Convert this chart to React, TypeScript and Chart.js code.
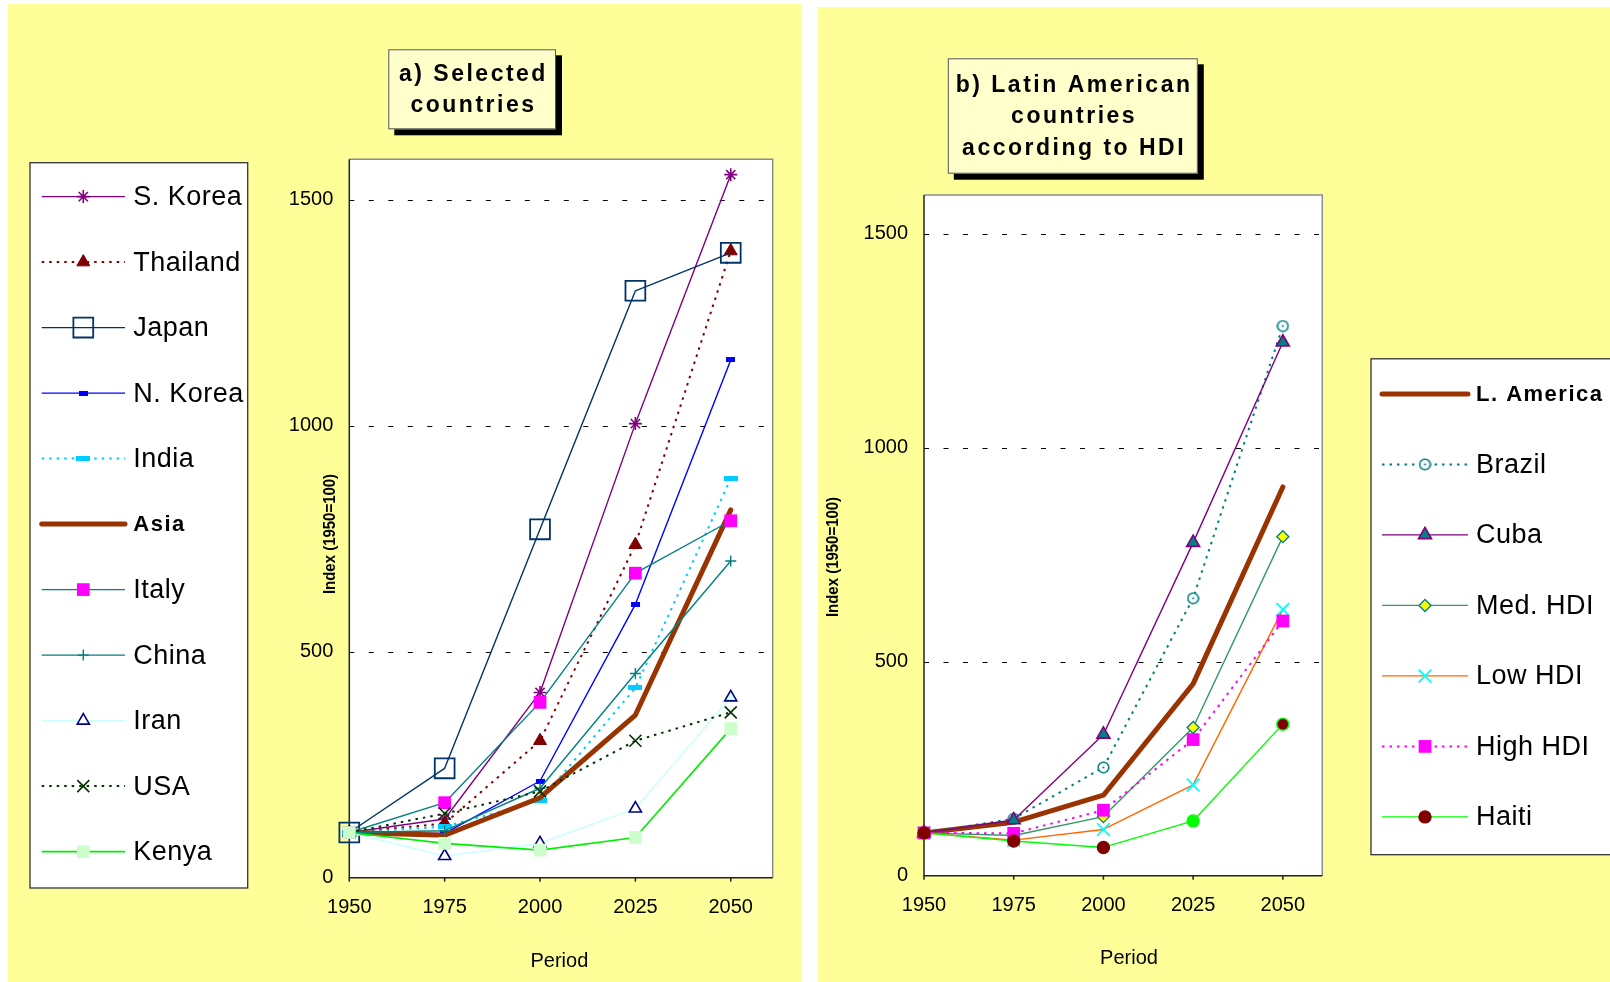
import React, { useEffect, useRef } from 'react';
import { Chart, registerables } from 'chart.js';
import { drawPoint } from 'chart.js/helpers';

Chart.register(...registerables);

// Periods and axis ticks
const years = [1950, 1975, 2000, 2025, 2050];
const xTicks = [1950, 1975, 2000, 2025, 2050];
const yTicks = [0, 500, 1000, 1500];

// a) Selected countries, index 1950 = 100
const sKorea = [100, 130, 410, 1005, 1556];
const thailand = [100, 120, 303, 737, 1387];
const japan = [100, 242, 771, 1299, 1383];
const nKorea = [100, 98, 214, 605, 1146];
const india = [100, 113, 170, 420, 883];
const asia = [100, 94, 177, 360, 814];
const italy = [100, 166, 388, 674, 790];
const china = [100, 104, 198, 452, 701];
const iran = [100, 48, 76, 153, 399];
const usa = [100, 142, 191, 303, 366];
const kenya = [100, 76, 61, 89, 330];

// b) Latin American countries according to HDI, index 1950 = 100
const lAmerica = [100, 125, 188, 448, 908];
const brazil = [100, 133, 253, 648, 1284];
const cuba = [100, 130, 330, 778, 1246];
const medHdi = [100, 94, 138, 346, 792];
const lowHdi = [100, 83, 108, 212, 622];
const highHdi = [100, 99, 153, 318, 595];
const haiti = [100, 81, 66, 128, 354];

const FONT = '"Liberation Sans", Arial, Helvetica, sans-serif';
const Y_AXIS_WIDTH = 90;

type Series = {
  label: string;
  values: number[];
  color: string;
  width: number;
  dash?: number[];
  style: any;
  radius: number;
  bg: string | string[];
  edge: string | string[];
  edgeWidth: number;
  bold?: boolean;
};

type Panel = {
  left: number;
  top: number;
  width: number;
  height: number;
  plotLeft: number;
  padding: { right: number; top: number; bottom: number };
  legend: { box: number[]; rowY0: number; rowStep: number; lineX0: number; lineX1: number; markX: number; textX: number };
  title: { box: number[]; lines: string[]; lineStep: number };
  yTitle: number[];
  xTitle: number[];
  series: Series[];
};

function barMarker(w: number, h: number, color: string) {
  const c = document.createElement('canvas');
  c.width = w;
  c.height = h;
  const g = c.getContext('2d')!;
  g.fillStyle = color;
  g.fillRect(0, 0, w, h);
  return c;
}

function ringMarker(size: number, color: string) {
  const c = document.createElement('canvas');
  c.width = size;
  c.height = size;
  const g = c.getContext('2d')!;
  const r = size / 2;
  g.fillStyle = '#ffffff';
  g.strokeStyle = color;
  g.lineWidth = 1.6;
  g.beginPath();
  g.arc(r, r, r - 1.2, 0, Math.PI * 2);
  g.fill();
  g.stroke();
  g.fillStyle = color;
  g.beginPath();
  g.arc(r, r, 1.1, 0, Math.PI * 2);
  g.fill();
  return c;
}

function first(v: string | string[]) {
  return Array.isArray(v) ? v[0] : v;
}

function asiaSeries(): Series[] {
  return [
    { label: 'S. Korea', values: sKorea, color: '#800080', width: 1.4, style: 'star', radius: 6.5, bg: '#800080', edge: '#800080', edgeWidth: 1.6 },
    { label: 'Thailand', values: thailand, color: '#800000', width: 2, dash: [2.5, 5], style: 'triangle', radius: 7.5, bg: '#800000', edge: '#800000', edgeWidth: 1 },
    { label: 'Japan', values: japan, color: '#003366', width: 1.4, style: 'rect', radius: 14, bg: 'rgba(0,0,0,0)', edge: '#003366', edgeWidth: 1.8 },
    { label: 'N. Korea', values: nKorea, color: '#0000FF', width: 1.4, style: barMarker(9, 5, '#0000FF'), radius: 5, bg: '#0000FF', edge: '#0000FF', edgeWidth: 0 },
    { label: 'India', values: india, color: '#00CCFF', width: 2, dash: [2.5, 5], style: barMarker(14, 5, '#00CCFF'), radius: 7, bg: '#00CCFF', edge: '#00CCFF', edgeWidth: 0 },
    { label: 'Asia', values: asia, color: '#993300', width: 5, style: false, radius: 0, bg: '#993300', edge: '#993300', edgeWidth: 0, bold: true },
    { label: 'Italy', values: italy, color: '#008080', width: 1.4, style: 'rect', radius: 9, bg: '#FF00FF', edge: '#FF00FF', edgeWidth: 0 },
    { label: 'China', values: china, color: '#008080', width: 1.4, style: 'cross', radius: 5.5, bg: '#008080', edge: '#008080', edgeWidth: 1.4 },
    { label: 'Iran', values: iran, color: '#CCFFFF', width: 1.6, style: 'triangle', radius: 7, bg: ['#ffffff', '#ffffff', '#ffffff', '#ffffff', '#CCFFFF'], edge: '#000080', edgeWidth: 1.6 },
    { label: 'USA', values: usa, color: '#003300', width: 2, dash: [2.5, 5], style: 'crossRot', radius: 8.5, bg: '#003300', edge: '#003300', edgeWidth: 1.6 },
    { label: 'Kenya', values: kenya, color: '#00EE00', width: 1.6, style: 'rect', radius: 9, bg: '#CCFFCC', edge: '#CCFFCC', edgeWidth: 0 },
  ];
}

function latinSeries(): Series[] {
  return [
    { label: 'L. America', values: lAmerica, color: '#993300', width: 5, style: false, radius: 0, bg: '#993300', edge: '#993300', edgeWidth: 0, bold: true },
    { label: 'Brazil', values: brazil, color: '#008080', width: 2, dash: [2.5, 5], style: ringMarker(13, '#008080'), radius: 6, bg: '#ffffff', edge: '#008080', edgeWidth: 0 },
    { label: 'Cuba', values: cuba, color: '#800080', width: 1.4, style: 'triangle', radius: 7.5, bg: '#008080', edge: '#800080', edgeWidth: 1.6 },
    { label: 'Med. HDI', values: medHdi, color: '#339966', width: 1.4, style: 'rectRot', radius: 6, bg: '#FFFF00', edge: '#008080', edgeWidth: 1.4 },
    { label: 'Low HDI', values: lowHdi, color: '#FF6600', width: 1.4, style: 'crossRot', radius: 9, bg: '#00FFFF', edge: '#00FFFF', edgeWidth: 1.8 },
    { label: 'High HDI', values: highHdi, color: '#FF00FF', width: 2, dash: [2.5, 5], style: 'rect', radius: 9, bg: '#FF00FF', edge: '#FF00FF', edgeWidth: 0 },
    { label: 'Haiti', values: haiti, color: '#00FF00', width: 1.4, style: 'circle', radius: 6, bg: ['#800000', '#800000', '#800000', '#00FF00', '#800000'], edge: ['#800000', '#800000', '#800000', '#00FF00', '#00FF00'], edgeWidth: 1.4 },
  ];
}

function buildDatasets(series: Series[]) {
  return series.map((s, i) => ({
    label: s.label,
    data: years.map((x, k) => ({ x, y: s.values[k] })),
    borderColor: s.color,
    borderWidth: s.width,
    borderDash: s.dash ?? [],
    borderCapStyle: s.width > 3 ? 'round' : 'butt',
    borderJoinStyle: 'round',
    pointStyle: s.style,
    pointRadius: s.radius,
    pointHoverRadius: s.radius,
    pointBackgroundColor: s.bg,
    pointBorderColor: s.edge,
    pointBorderWidth: s.edgeWidth,
    fill: false,
    tension: 0,
    clip: false,
    order: -i,
  }));
}

function decor(p: Panel) {
  return {
    id: 'decor',
    beforeDraw(chart: any) {
      const { ctx, chartArea: a } = chart;
      ctx.save();
      ctx.fillStyle = '#ffffff';
      ctx.fillRect(a.left, a.top, a.right - a.left, a.bottom - a.top);
      ctx.restore();
    },
    beforeDatasetsDraw(chart: any) {
      const { ctx, chartArea: a, scales } = chart;
      ctx.save();
      // dashed horizontal gridlines
      ctx.strokeStyle = '#000000';
      ctx.lineWidth = 1;
      ctx.setLineDash([5, 14.5]);
      for (const v of yTicks) {
        if (v === 0) continue;
        const py = Math.round(scales.y.getPixelForValue(v)) + 0.5;
        ctx.beginPath();
        ctx.moveTo(a.left, py);
        ctx.lineTo(a.right - 3, py);
        ctx.stroke();
      }
      ctx.setLineDash([]);
      // plot frame: grey top/right, dark axes left/bottom
      ctx.strokeStyle = '#8c8c8c';
      ctx.lineWidth = 1.5;
      ctx.beginPath();
      ctx.moveTo(a.left, a.top);
      ctx.lineTo(a.right, a.top);
      ctx.lineTo(a.right, a.bottom);
      ctx.stroke();
      ctx.strokeStyle = '#222222';
      ctx.beginPath();
      ctx.moveTo(a.left, a.top);
      ctx.lineTo(a.left, a.bottom);
      ctx.lineTo(a.right, a.bottom);
      ctx.stroke();
      for (const v of xTicks) {
        const px = scales.x.getPixelForValue(v);
        ctx.beginPath();
        ctx.moveTo(px, a.bottom);
        ctx.lineTo(px, a.bottom + 4);
        ctx.stroke();
      }
      ctx.restore();
    },
    afterDraw(chart: any) {
      const { ctx } = chart;
      ctx.save();

      // legend
      const L = p.legend;
      ctx.fillStyle = '#ffffff';
      ctx.fillRect(L.box[0], L.box[1], L.box[2], L.box[3]);
      ctx.strokeStyle = '#333333';
      ctx.lineWidth = 1.3;
      ctx.strokeRect(L.box[0], L.box[1], L.box[2], L.box[3]);
      p.series.forEach((s, i) => {
        const y = L.rowY0 + L.rowStep * i;
        ctx.save();
        ctx.strokeStyle = s.color;
        ctx.lineWidth = s.width;
        ctx.setLineDash(s.dash ?? []);
        ctx.lineCap = s.width > 3 ? 'round' : 'butt';
        ctx.beginPath();
        ctx.moveTo(L.lineX0, y);
        ctx.lineTo(L.lineX1, y);
        ctx.stroke();
        ctx.restore();
        if (s.radius > 0) {
          ctx.save();
          ctx.setLineDash([]);
          ctx.fillStyle = first(s.bg);
          ctx.strokeStyle = first(s.edge);
          ctx.lineWidth = s.edgeWidth;
          drawPoint(ctx, { pointStyle: s.style, radius: s.radius, borderWidth: s.edgeWidth, rotation: 0 } as any, L.markX, y);
          ctx.restore();
        }
        ctx.fillStyle = '#000000';
        ctx.textAlign = 'left';
        ctx.textBaseline = 'middle';
        ctx.font = s.bold ? `bold 22px ${FONT}` : `27px ${FONT}`;
        (ctx as any).letterSpacing = s.bold ? '1.5px' : '0.5px';
        ctx.fillText(s.label, L.textX, y + 1);
      });
      (ctx as any).letterSpacing = '0px';

      // title box with drop shadow
      const T = p.title;
      const [bx, by, bw, bh] = T.box;
      ctx.fillStyle = '#000000';
      ctx.fillRect(bx + 6, by + 6, bw, bh);
      ctx.fillStyle = '#FFFFCC';
      ctx.fillRect(bx, by, bw, bh);
      ctx.strokeStyle = '#555555';
      ctx.lineWidth = 1;
      ctx.strokeRect(bx + 0.5, by + 0.5, bw - 1, bh - 1);
      ctx.fillStyle = '#000000';
      ctx.font = `bold 23px ${FONT}`;
      (ctx as any).letterSpacing = '2.5px';
      ctx.textAlign = 'center';
      ctx.textBaseline = 'middle';
      const cy = by + bh / 2;
      T.lines.forEach((line, i) => {
        const off = (i - (T.lines.length - 1) / 2) * T.lineStep;
        ctx.fillText(line, bx + bw / 2 + 1.3, cy + off + 1);
      });
      (ctx as any).letterSpacing = '0px';

      // axis titles
      ctx.save();
      ctx.translate(p.yTitle[0], p.yTitle[1]);
      ctx.rotate(-Math.PI / 2);
      ctx.scale(0.88, 1);
      ctx.font = `bold 17px ${FONT}`;
      ctx.fillText('Index (1950=100)', 0, 0);
      ctx.restore();

      ctx.font = `20px ${FONT}`;
      ctx.fillText('Period', p.xTitle[0], p.xTitle[1]);
      ctx.restore();
    },
  };
}

function ChartPanel({ panel }: { panel: () => Panel }) {
  const ref = useRef<HTMLCanvasElement | null>(null);
  const cfgRef = useRef<Panel | null>(null);
  if (!cfgRef.current && typeof document !== 'undefined') cfgRef.current = panel();
  const p = cfgRef.current!;

  useEffect(() => {
    if (!ref.current) return;
    const chart = new Chart(ref.current, {
      type: 'line',
      data: { datasets: buildDatasets(p.series) as any },
      options: {
        animation: false,
        responsive: false,
        devicePixelRatio: 1,
        events: [],
        layout: { padding: { left: p.plotLeft - Y_AXIS_WIDTH, ...p.padding } },
        plugins: { legend: { display: false }, tooltip: { enabled: false }, title: { display: false } },
        scales: {
          x: {
            type: 'linear',
            min: 1950,
            max: 2061,
            grid: { display: false, drawTicks: false },
            border: { display: false },
            afterBuildTicks: (s: any) => {
              s.ticks = xTicks.map((v) => ({ value: v }));
            },
            afterFit: (s: any) => {
              s.height = 50;
            },
            ticks: {
              font: { family: FONT, size: 20 },
              color: '#000000',
              padding: 18,
              maxRotation: 0,
              autoSkip: false,
              callback: (v: any) => String(v),
            },
          },
          y: {
            type: 'linear',
            min: 0,
            max: 1590,
            grid: { display: false, drawTicks: false },
            border: { display: false },
            afterBuildTicks: (s: any) => {
              s.ticks = yTicks.map((v) => ({ value: v }));
            },
            afterFit: (s: any) => {
              s.width = Y_AXIS_WIDTH;
            },
            ticks: {
              font: { family: FONT, size: 20 },
              color: '#000000',
              padding: 16,
              callback: (v: any) => String(v),
            },
          },
        },
      } as any,
      plugins: [decor(p) as any],
    });
    return () => chart.destroy();
  }, []);

  return (
    <canvas
      ref={ref}
      width={p.width}
      height={p.height}
      style={{ position: 'absolute', left: p.left, top: p.top, width: p.width, height: p.height, background: '#FFFF99' }}
    />
  );
}

const leftPanel = (): Panel => ({
  left: 8,
  top: 4,
  width: 794,
  height: 978,
  plotLeft: 341.3,
  padding: { right: 29.3, top: 155.3, bottom: 54.3 },
  legend: { box: [22, 158.7, 217.7, 725.3], rowY0: 192.6, rowStep: 65.5, lineX0: 33.7, lineX1: 117, markX: 75.3, textX: 125.3 },
  title: { box: [380.3, 45.3, 167.7, 80], lines: ['a) Selected', 'countries'], lineStep: 31 },
  yTitle: [322.6, 530],
  xTitle: [551.4, 957],
  series: asiaSeries(),
});

const rightPanel = (): Panel => ({
  left: 818,
  top: 7,
  width: 792,
  height: 975,
  plotLeft: 106,
  padding: { right: 287.7, top: 188, bottom: 56.3 },
  legend: { box: [553, 351.8, 260, 495.9], rowY0: 386.9, rowStep: 70.5, lineX0: 564, lineX1: 650, markX: 607, textX: 658 },
  title: { box: [129.8, 51.3, 250, 115.4], lines: ['b) Latin American', 'countries', 'according to HDI'], lineStep: 31.5 },
  yTitle: [15, 550],
  xTitle: [311, 951],
  series: latinSeries(),
});

export default function App() {
  return (
    <div style={{ position: 'absolute', left: 0, top: 0, width: 1610, height: 982, background: '#ffffff', overflow: 'hidden' }}>
      <ChartPanel panel={leftPanel} />
      <ChartPanel panel={rightPanel} />
    </div>
  );
}
